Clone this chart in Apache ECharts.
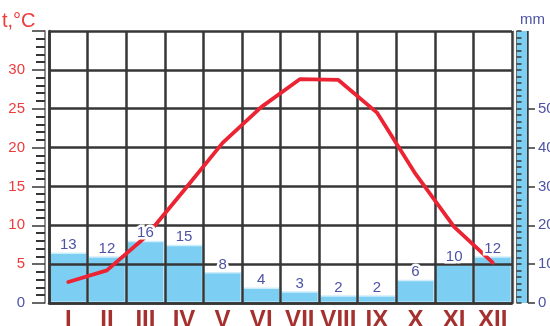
<!DOCTYPE html>
<html>
<head>
<meta charset="utf-8">
<script src="https://cdn.jsdelivr.net/npm/echarts@6/dist/echarts.min.js"></script>
<style>
  html, body { margin: 0; padding: 0; background: #fff; }
  #chart { width: 550px; height: 326px; }
</style>
</head>
<body>
<div id="chart"></div>
<script>
// Monthly climate data: mean temperature (°C) and precipitation (mm)
const months = ['I', 'II', 'III', 'IV', 'V', 'VI', 'VII', 'VIII', 'IX', 'X', 'XI', 'XII'];
const precipitation = [13, 12, 16, 15, 8, 4, 3, 2, 2, 6, 10, 12];
const temperature = [2.7, 4.2, 8.5, 14.5, 20.6, 25.2, 28.8, 28.7, 24.5, 16.6, 9.8, 5.2];

// Axis scales and the values that carry labels
const tempRange = [0, 35];
const tempLabelValues = [0, 5, 10, 15, 20, 25, 30];
const mmRange = [0, 70];
const mmLabelValues = [0, 10, 20, 30, 40, 50];

const FONT = 'Liberation Sans, Arial, sans-serif';
const GRID_COLOR = '#363636';
const RED = '#ee3b3b';
const BLUE_TEXT = '#4d52a6';
const BAR_BLUE = '#7ccff3';

const chart = echarts.init(document.getElementById('chart'), null, { renderer: 'canvas' });

chart.setOption({
  animation: false,
  backgroundColor: '#fff',
  grid: { left: 49, right: 38, top: 31, bottom: 23, containLabel: false, outerBoundsMode: 'none' },
  graphic: [
    { type: 'text', left: 2, top: 11, z: 10,
      style: { text: 't,°C', fill: RED, font: '20px ' + FONT } },
    { type: 'text', left: 520, top: 12, z: 10,
      style: { text: 'mm', fill: BLUE_TEXT, font: '15px ' + FONT } }
  ],
  xAxis: {
    type: 'category',
    data: months,
    boundaryGap: true,
    z: 3,
    axisLine: { show: true, lineStyle: { color: GRID_COLOR, width: 2.5 } },
    axisTick: { show: false },
    axisLabel: {
      interval: 0, margin: 5,
      color: '#a5302e', fontSize: 24, fontWeight: 'bold',
      fontFamily: 'Liberation Sans Narrow, Liberation Sans, Arial, sans-serif'
    },
    splitLine: { show: true, interval: 0, lineStyle: { color: GRID_COLOR, width: 2.5 } }
  },
  yAxis: [
    // 0: temperature scale with the grid and red labels
    {
      type: 'value', position: 'left', min: tempRange[0], max: tempRange[1], interval: 5, z: 3,
      axisLine: { show: true, lineStyle: { color: GRID_COLOR, width: 2.5 } },
      axisTick: { show: false },
      axisLabel: {
        margin: 24, fontSize: 15, fontFamily: FONT,
        customValues: tempLabelValues,
        color: (v) => (Number(v) === 0 ? BLUE_TEXT : RED)
      },
      splitLine: { show: true, lineStyle: { color: GRID_COLOR, width: 2.5 } }
    },
    // 1: precipitation scale, labels beside the ruler
    {
      type: 'value', position: 'right', min: mmRange[0], max: mmRange[1], interval: 10, offset: 16, z: 8,
      axisLine: { show: false },
      axisTick: { show: true, inside: false, length: 7, customValues: mmLabelValues,
        lineStyle: { color: GRID_COLOR, width: 1.5 } },
      axisLabel: { margin: 10, fontSize: 15, fontFamily: FONT, color: BLUE_TEXT, customValues: mmLabelValues },
      splitLine: { show: false }
    },
    // 2: ruler outline
    {
      type: 'value', position: 'right', min: mmRange[0], max: mmRange[1], offset: 10, z: 5,
      axisLine: { show: true, lineStyle: { color: '#3a3a3a', width: 12.5, cap: 'butt' } },
      axisTick: { show: false }, axisLabel: { show: false }, splitLine: { show: false }
    },
    // 3: ruler fill
    {
      type: 'value', position: 'right', min: mmRange[0], max: mmRange[1], offset: 10, z: 6,
      axisLine: { show: true, lineStyle: { color: BAR_BLUE, width: 10, cap: 'butt' } },
      axisTick: { show: false }, axisLabel: { show: false }, splitLine: { show: false }
    },
    // 4: ruler graduation
    {
      type: 'value', position: 'right', min: mmRange[0], max: mmRange[1], interval: 10, offset: 4.5, z: 7,
      axisLine: { show: false },
      axisTick: { show: true, length: 5, lineStyle: { color: GRID_COLOR, width: 1.5 } },
      minorTick: { show: true, splitNumber: 6, length: 5, lineStyle: { color: GRID_COLOR, width: 1.5 } },
      axisLabel: { show: false }, splitLine: { show: false }
    },
    // 5: outer left rule with temperature graduation
    {
      type: 'value', position: 'left', min: tempRange[0], max: tempRange[1], interval: 5, offset: 4, z: 3,
      axisLine: { show: true, lineStyle: { color: '#6a6a6a', width: 1.5 } },
      axisTick: { show: true, length: 13, lineStyle: { color: GRID_COLOR, width: 1.5 } },
      minorTick: { show: true, splitNumber: 5, length: 9, lineStyle: { color: GRID_COLOR, width: 2 } },
      axisLabel: { show: false }, splitLine: { show: false }
    },
    // 6: inner right rule of the plot frame
    {
      type: 'value', position: 'right', min: mmRange[0], max: mmRange[1], offset: 1.5, z: 3,
      axisLine: { show: true, lineStyle: { color: '#6a6a6a', width: 1.2 } },
      axisTick: { show: false }, axisLabel: { show: false }, splitLine: { show: false }
    }
  ],
  series: [
    {
      name: 'precipitation',
      type: 'bar',
      yAxisIndex: 1,
      data: precipitation,
      barCategoryGap: '0%',
      barGap: '-100%',
      z: 1,
      itemStyle: { color: BAR_BLUE, borderColor: '#cfeefc', borderWidth: 1.5 },
      silent: true
    },
    {
      name: 'temperature',
      type: 'line',
      yAxisIndex: 0,
      data: temperature,
      z: 4,
      symbol: 'none',
      lineStyle: { color: '#ec2332', width: 3.8, cap: 'round', join: 'round' },
      silent: true
    },
    {
      name: 'precipitation labels',
      type: 'bar',
      yAxisIndex: 1,
      data: precipitation,
      barCategoryGap: '0%',
      barGap: '-100%',
      z: 5,
      itemStyle: { color: 'rgba(0,0,0,0)' },
      label: {
        show: true, position: 'top', distance: 0,
        color: BLUE_TEXT, fontSize: 15, fontFamily: FONT, lineHeight: 15,
        textBorderColor: '#fff', textBorderWidth: 5
      },
      silent: true
    }
  ]
});
</script>
</body>
</html>
